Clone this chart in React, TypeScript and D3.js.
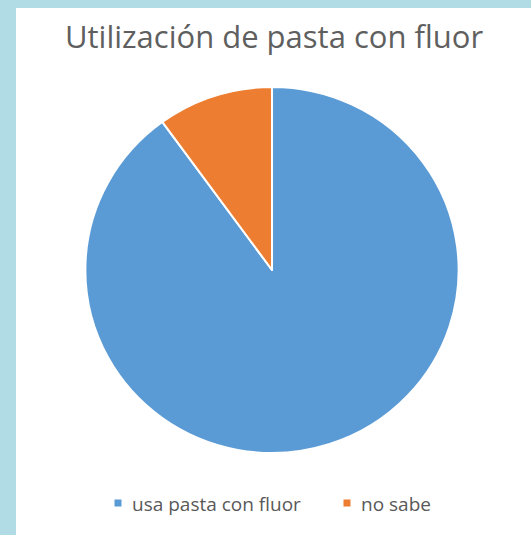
import React, { useEffect, useRef } from 'react';
import * as d3 from 'd3';

const categories = ['usa pasta con fluor', 'no sabe'];
const values = [90, 10];
const colors = ['#5b9bd5', '#ed7d31'];
const title = 'Utilización de pasta con fluor';

export default function App() {
  const svgRef = useRef<SVGSVGElement>(null);

  useEffect(() => {
    if (!svgRef.current) return;
    const svg = d3.select(svgRef.current);
    svg.selectAll('*').remove();

    const width = 531;
    const height = 535;

    // light blue frame + white chart area
    svg.append('rect').attr('width', width).attr('height', height).attr('fill', '#b1dbe5');
    svg.append('rect')
      .attr('x', 16).attr('y', 8)
      .attr('width', width - 16).attr('height', height - 8)
      .attr('fill', '#ffffff');

    svg.append('text')
      .attr('x', 274)
      .attr('y', 48)
      .attr('text-anchor', 'middle')
      .style('font-family', '"Open Sans", sans-serif')
      .style('font-size', '31px')
      .attr('fill', '#5f5f5f')
      .text(title);

    const cx = 272;
    const cy = 270;
    const r = 183;

    const data = categories.map((c, i) => ({ name: c, value: values[i], color: colors[i] }));
    const pie = d3.pie<typeof data[0]>().sort(null).value(d => d.value);
    const arc = d3.arc<d3.PieArcDatum<typeof data[0]>>().innerRadius(0).outerRadius(r);

    // the source picture is slightly stretched sideways
    const g = svg.append('g').attr('transform', `translate(${cx},${cy}) scale(1.02,1)`);
    g.selectAll('path')
      .data(pie(data))
      .join('path')
      .attr('d', arc)
      .attr('fill', d => d.data.color)
      .attr('stroke', '#ffffff')
      .attr('stroke-width', 2)
      .attr('stroke-linejoin', 'round');

    // legend
    const legendY = 503;
    const legendX = [118, 347];
    const lg = svg.append('g');
    data.forEach((d, i) => {
      lg.append('rect')
        .attr('x', legendX[i] - 3.5)
        .attr('y', legendY - 3.5)
        .attr('width', 7)
        .attr('height', 7)
        .attr('fill', d.color);
      lg.append('text')
        .attr('x', legendX[i] + 14)
        .attr('y', legendY + 8)
        .style('font-family', '"Open Sans", sans-serif')
        .style('font-size', '19px')
        .attr('fill', '#595959')
        .text(d.name);
    });
  }, []);

  return (
    <div style={{ position: 'absolute', left: 0, top: 0 }}>
      <svg ref={svgRef} width={531} height={535} style={{ display: 'block' }} />
    </div>
  );
}
